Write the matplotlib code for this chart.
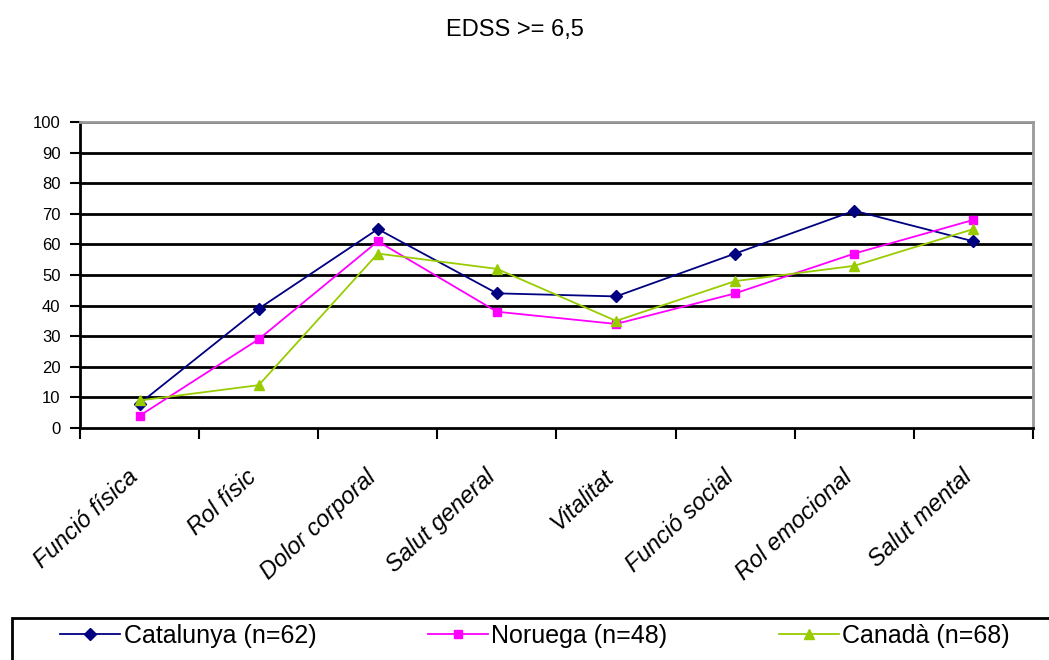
import numpy as np
import matplotlib.pyplot as plt
import matplotlib.transforms as mtransforms
from matplotlib.patches import Rectangle

plt.rcParams['font.family'] = ['Liberation Sans', 'DejaVu Sans']

categories = ["Funció física", "Rol físic", "Dolor corporal", "Salut general",
              "Vitalitat", "Funció social", "Rol emocional", "Salut mental"]
catalunya = [8, 39, 65, 44, 43, 57, 71, 61]
noruega = [4, 29, 61, 38, 34, 44, 57, 68]
canada = [9, 14, 57, 52, 35, 48, 53, 65]
labels = ["Catalunya (n=62)", "Noruega (n=48)", "Canadà (n=68)"]

fig = plt.figure(figsize=(10.49, 6.6), dpi=100)
ax = fig.add_axes([0.0763, 0.3515, 0.9084, 0.4637])

x = np.arange(len(categories))
ax.plot(x, catalunya, color='#000080', marker='D', markersize=6, lw=1.3, label=labels[0])
ax.plot(x, noruega, color='#FF00FF', marker='s', markersize=6, lw=1.3, label=labels[1])
ax.plot(x, canada, color='#99CC00', marker='^', markersize=7, lw=1.3, label=labels[2])

ax.set_xlim(-0.5, len(categories) - 0.5)
ax.set_ylim(0, 100)
ax.set_yticks(range(0, 101, 10))
ax.tick_params(axis='y', labelsize=12, length=7, width=1.5, direction='out', pad=7)
for v in range(10, 101, 10):
    ax.axhline(v, color='black', lw=2, zorder=0)

ax.set_xticks(x)
ax.set_xticklabels(categories, rotation=43, ha='right', va='top', rotation_mode='anchor',
                   fontsize=17, fontstyle='italic')
ax.tick_params(axis='x', which='major', length=0, pad=27)
shift = mtransforms.ScaledTranslation(-13 / 100, 0, fig.dpi_scale_trans)
for lab in ax.get_xticklabels():
    lab.set_transform(lab.get_transform() + shift)
ax.set_xticks(np.arange(-0.5, len(categories), 1), minor=True)
ax.tick_params(axis='x', which='minor', length=8, width=1.5, direction='out')

ax.spines['left'].set_linewidth(2)
ax.spines['bottom'].set_linewidth(2)
ax.spines['top'].set_color('#999999')
ax.spines['right'].set_color('#999999')
ax.spines['top'].set_linewidth(2)
ax.spines['right'].set_linewidth(2)

fig.text(0.491, 0.955, "EDSS >= 6,5", ha='center', va='center', fontsize=17)

# legend frame, cut off at the bottom/right like the reference
fig.patches.append(Rectangle((12 / 1049, -0.05), 1.0, 0.05 + 1 - 618 / 660,
                             transform=fig.transFigure, fill=False,
                             edgecolor='black', lw=2))
leg = fig.legend(loc='upper left', ncol=3, bbox_to_anchor=(60 / 1049, 1 - 624 / 660),
                 fontsize=18, frameon=False, handlelength=2.4, handletextpad=0.15,
                 columnspacing=4.45, borderaxespad=0, borderpad=0)

fig.savefig("out.png", dpi=100)
